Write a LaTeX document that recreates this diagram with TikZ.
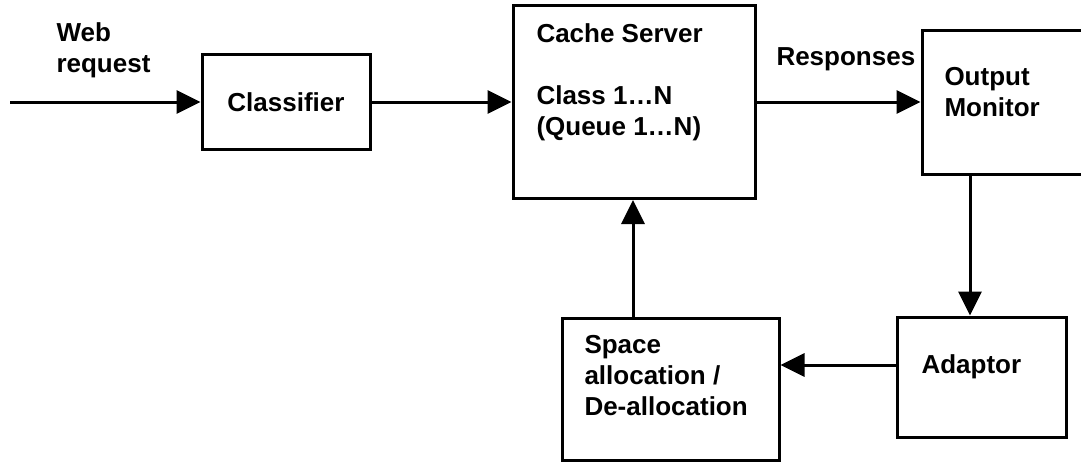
\documentclass[tikz,border=0pt]{standalone}
\usepackage{fontspec}
\setmainfont{Liberation Sans}
\usetikzlibrary{arrows.meta}

\begin{document}
\begin{tikzpicture}[x=1pt,y=-1pt,line width=3pt,
	>={Triangle[length=24pt,width=23pt]},
	caja/.style={draw,rectangle,inner sep=0pt},
	texto/.style={inner sep=0pt,align=left,font=\fontsize{26}{31}\selectfont\bfseries}]
	\useasboundingbox (0,0) rectangle (1081,461);
	% cajas
	\node [caja,minimum width=168pt,minimum height=95pt] (classifier) at (286,102) {};
	\node [caja,minimum width=242pt,minimum height=193pt] (cache) at (634,102) {};
	\node [caja,minimum width=168pt,minimum height=144pt] (monitor) at (1006,102) {};
	\node [caja,minimum width=169pt,minimum height=120pt] (adaptor) at (981.5,377) {};
	\node [caja,minimum width=217pt,minimum height=142pt] (space) at (670.5,389) {};
	% textos (base = ultima linea)
	\node [texto,anchor=base west] (webtxt) at (55,72) {Web\\request};
	\node [texto] (classtxt) at (classifier) {Classifier};
	\node [texto,anchor=base west] (cachetxt) at (535,135) {Cache Server\\[31pt]Class 1…N\\(Queue 1…N)};
	\node [texto,anchor=base west] (resptxt) at (775,65) {Responses};
	\node [texto,anchor=base west] (montxt) at (943,116) {Output\\Monitor};
	\node [texto,anchor=base west] (adaptxt) at (920,373) {Adaptor};
	\node [texto,anchor=base west] (spacetxt) at (583,415) {Space\\allocation /\\De-allocation};
	% flechas
	\coordinate (in) at (10,102);
	\coordinate (down) at (970,0);
	\coordinate (side) at (0,365);
	\coordinate (up) at (633,0);
	\draw[->] (in) -- (classifier); % entrada
	\draw[->] (classifier) -- (cache);
	\draw[->] (cache) -- (monitor);
	\draw[->] (monitor.south -| down) -- (adaptor.north -| down);
	\draw[->] (adaptor.west |- side) -- (space.east |- side);
	\draw[->] (space.north -| up) -- (cache.south -| up); % realimentacion
\end{tikzpicture}
\end{document}
